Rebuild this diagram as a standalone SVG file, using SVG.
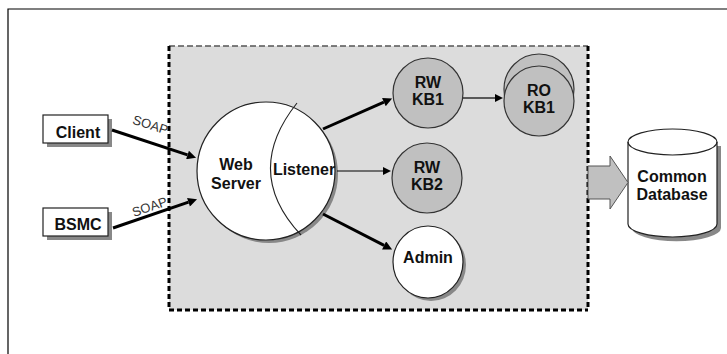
<svg xmlns="http://www.w3.org/2000/svg" width="727" height="354" viewBox="0 0 727 354">
<style>
  .t{font-family:"Liberation Sans",Arial,sans-serif;font-weight:bold;font-size:16px;fill:#111;text-anchor:middle}
  .soap{font-family:"Liberation Sans",Arial,sans-serif;font-size:13px;fill:#333;text-anchor:middle}
  .box{fill:#fff;stroke:#222;stroke-width:1.2}
  .shadow{fill:#888;stroke:none}
  .grey{fill:#c0c0c0;stroke:#333;stroke-width:1.2}
  .white{fill:#fff;stroke:#222;stroke-width:1.2}
  .thick{stroke:#000;stroke-width:3;fill:none}
  .thin{stroke:#000;stroke-width:1.2;fill:none}
</style>
<defs>
  <marker id="ah" viewBox="0 0 10 10" refX="0" refY="5" markerWidth="10" markerHeight="9" markerUnits="userSpaceOnUse" orient="auto">
    <path d="M0,0 L10,5 L0,10 z" fill="#000"/>
  </marker>
  <marker id="ahs" viewBox="0 0 10 10" refX="0" refY="5" markerWidth="9" markerHeight="8" markerUnits="userSpaceOnUse" orient="auto">
    <path d="M0,0 L10,5 L0,10 z" fill="#000"/>
  </marker>
</defs>
<rect width="727" height="354" fill="#fff"/>
<!-- outer frame -->
<path d="M8,354 L8,9 L727,9" fill="none" stroke="#000" stroke-width="1.2"/>

<!-- dashed container -->
<g id="container">
  <rect x="169" y="46" width="419" height="264" fill="#dcdcdc"/>
  <line x1="169" y1="46" x2="588" y2="46" stroke="#555" stroke-width="1.5" stroke-dasharray="6,3"/>
  <line x1="169" y1="46" x2="169" y2="310" stroke="#000" stroke-width="3" stroke-dasharray="5,3"/>
  <line x1="588" y1="46" x2="588" y2="310" stroke="#000" stroke-width="3" stroke-dasharray="5,3"/>
  <line x1="169" y1="310" x2="588" y2="310" stroke="#000" stroke-width="3" stroke-dasharray="5,3"/>
</g>

<g id="client">
  <rect class="shadow" x="47" y="119" width="65" height="28"/>
  <rect class="box" x="43" y="115" width="65" height="28"/>
  <text class="t" x="78" y="138">Client</text>
</g>

<g id="bsmc">
  <rect class="shadow" x="47" y="212" width="65" height="28"/>
  <rect class="box" x="43" y="208" width="65" height="28"/>
  <text class="t" x="78" y="230">BSMC</text>
</g>

<g id="webserver">
  <circle class="shadow" cx="269" cy="174" r="69"/>
  <circle class="white" cx="266" cy="171" r="69"/>
  <path d="M297,103 Q242,172 301,235" fill="none" stroke="#222" stroke-width="1.1"/>
  <text class="t" x="236" y="170">Web</text>
  <text class="t" x="236" y="189">Server</text>
  <text class="t" x="304" y="175">Listener</text>
</g>

<g id="rwkb1">
  <circle class="grey" cx="428" cy="93" r="35"/>
  <text class="t" x="428" y="88">RW</text>
  <text class="t" x="428" y="105">KB1</text>
</g>

<g id="rokb1">
  <circle class="grey" cx="539" cy="89" r="35"/>
  <circle class="grey" cx="539" cy="101" r="35"/>
  <text class="t" x="539" y="96">RO</text>
  <text class="t" x="539" y="113">KB1</text>
</g>

<g id="rwkb2">
  <circle class="grey" cx="427" cy="178" r="35"/>
  <text class="t" x="427" y="173">RW</text>
  <text class="t" x="427" y="190">KB2</text>
</g>

<g id="admin">
  <ellipse class="shadow" cx="431" cy="265" rx="35" ry="36"/>
  <ellipse class="white" cx="428" cy="262" rx="35" ry="36"/>
  <text class="t" x="428" y="263">Admin</text>
</g>

<g id="database">
  <path class="shadow" d="M632,146 L632,228 A44,13 0 0 0 721,228 L721,146 z"/>
  <path class="white" d="M628,142 L628,224 A44.5,13 0 0 0 717,224 L717,142 A44.5,13 0 0 0 628,142 z"/>
  <path d="M628,142 A44.5,13 0 0 0 717,142" fill="none" stroke="#222" stroke-width="1.2"/>
  <text class="t" x="672" y="182">Common</text>
  <text class="t" x="672" y="200">Database</text>
</g>

<g id="connectors">
  <path class="thick" d="M112,130 L187.5,154.9" marker-end="url(#ah)"/>
  <path class="thick" d="M113,228 L188.5,202.2" marker-end="url(#ah)"/>
  <path class="thick" d="M323,129 L383.9,102.1" marker-end="url(#ah)"/>
  <path class="thin" d="M337,171 L383,171" marker-end="url(#ahs)"/>
  <path class="thick" d="M323,214 L384.1,245.4" marker-end="url(#ah)"/>
  <path class="thin" d="M463,98 L495,98" marker-end="url(#ahs)"/>
  <path d="M588,166 L610,166 L610,156 L628,182.5 L610,209 L610,199 L588,199 z" fill="#c0c0c0" stroke="#555" stroke-width="1"/>
  <text class="soap" transform="translate(149,129) rotate(18)">SOAP</text>
  <text class="soap" transform="translate(151,211) rotate(-19)">SOAP</text>
</g>
</svg>
